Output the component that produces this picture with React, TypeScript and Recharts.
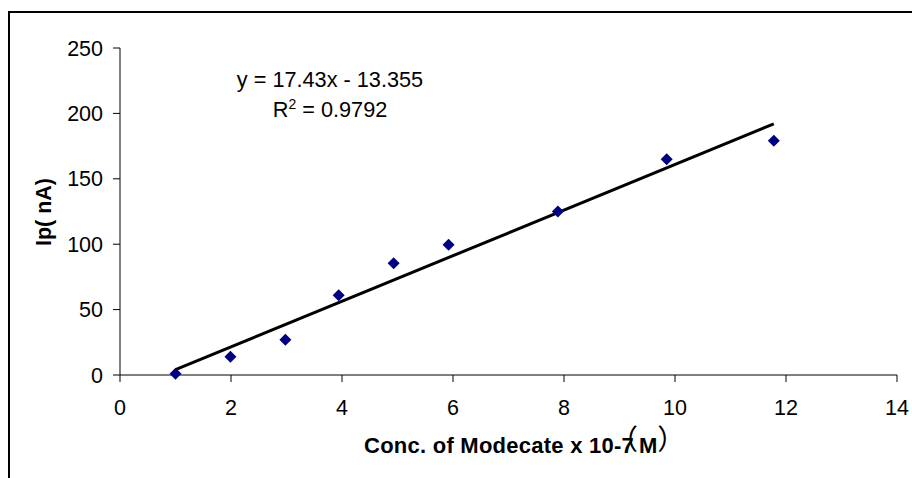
import React from 'react';
import { ScatterChart, Scatter, XAxis, YAxis, ReferenceLine } from 'recharts';

const concValues = [1, 1.99, 2.98, 3.94, 4.93, 5.92, 7.89, 9.85, 11.78];
const ipValues = [1, 14, 27, 61, 85.5, 99.5, 125, 165, 179];
const xTicks = [0, 2, 4, 6, 8, 10, 12, 14];
const yTicks = [0, 50, 100, 150, 200, 250];
const trendSlope = 17.43;
const trendIntercept = -13.355;
const equationText = 'y = 17.43x - 13.355';
const r2Value = '0.9792';
const xLabel = 'Conc. of Modecate x 10-7';
const yLabel = 'Ip( nA)';

const points = concValues.map((x, i) => ({ x, y: ipValues[i] }));
const xMin = Math.min(...concValues);
const xMax = Math.max(...concValues);
const trendSegment = [
  { x: xMin, y: trendSlope * xMin + trendIntercept },
  { x: xMax, y: trendSlope * xMax + trendIntercept },
];

const FONT = '"Liberation Sans", Arial, sans-serif';
const CJK = '"Noto Sans CJK SC", "Noto Sans CJK JP", serif';
const W = 912;
const H = 478;

const Diamond = (props: any) => {
  const { cx, cy } = props;
  if (cx == null || cy == null) return null;
  const r = 6;
  return (
    <polygon
      points={`${cx},${cy - r} ${cx + r},${cy} ${cx},${cy + r} ${cx - r},${cy}`}
      fill="#000080"
    />
  );
};

export default function App() {
  return (
    <div
      style={{
        position: 'relative',
        width: W,
        height: H,
        overflow: 'hidden',
        fontFamily: FONT,
        background: '#fff',
      }}
    >
      <style>{'html,body{margin:0;padding:0;overflow:hidden;}'}</style>
      <ScatterChart width={W} height={H} margin={{ top: 48, right: 15, left: 0, bottom: 0 }}>
        <XAxis
          type="number"
          dataKey="x"
          domain={[0, 14]}
          ticks={xTicks}
          interval={0}
          height={103}
          tickSize={7}
          tickMargin={18}
          axisLine={{ stroke: '#000', strokeWidth: 1 }}
          tickLine={{ stroke: '#000', strokeWidth: 1 }}
          tick={{ fill: '#000', fontSize: 21.5, fontFamily: FONT }}
        />
        <YAxis
          type="number"
          dataKey="y"
          domain={[0, 250]}
          ticks={yTicks}
          interval={0}
          width={120}
          tickSize={7}
          tickMargin={10}
          axisLine={{ stroke: '#000', strokeWidth: 1 }}
          tickLine={{ stroke: '#000', strokeWidth: 1 }}
          tick={{ fill: '#000', fontSize: 21.5, fontFamily: FONT }}
        />
        <Scatter data={points} shape={<Diamond />} isAnimationActive={false} />
        <ReferenceLine segment={trendSegment} stroke="#000" strokeWidth={3} ifOverflow="visible" />
      </ScatterChart>
      <svg
        width={W}
        height={H}
        style={{ position: 'absolute', left: 0, top: 0, pointerEvents: 'none' }}
      >
        <rect x={9} y={12} width={2000} height={2000} fill="none" stroke="#000" strokeWidth={2} />
        <text x={330} y={87} textAnchor="middle" fontSize={21.7} fontFamily={FONT} fill="#000">
          {equationText}
        </text>
        <text x={330} y={117} textAnchor="middle" fontSize={21.7} fontFamily={FONT} fill="#000">
          R<tspan fontSize={14} dy={-8}>2</tspan><tspan dy={8}>{' = ' + r2Value}</tspan>
        </text>
        <text
          x={51}
          y={212}
          transform="rotate(-90 51 212)"
          textAnchor="middle"
          fontSize={21.5}
          fontWeight="bold"
          fontFamily={FONT}
          fill="#000"
        >
          {yLabel}
        </text>
        <text x={364} y={453} fontSize={22} letterSpacing={0.25} fontWeight="bold" fontFamily={FONT} fill="#000">
          {xLabel}
          <tspan dx={-24} dy={-3} fontWeight="normal" fontSize={28} letterSpacing={0} fontFamily={CJK}>（</tspan>
          <tspan dx={1} dy={3} fontWeight="bold">M</tspan>
          <tspan dx={-0.5} dy={-3} fontWeight="normal" fontSize={28} letterSpacing={0} fontFamily={CJK}>）</tspan>
        </text>
      </svg>
    </div>
  );
}
